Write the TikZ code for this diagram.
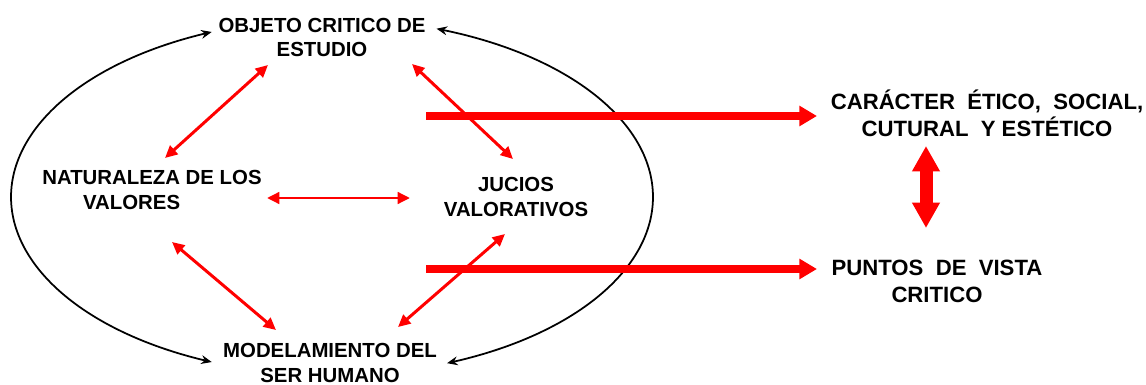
\documentclass[tikz,border=0pt]{standalone}
\usepackage{fontspec}
\setmainfont{Liberation Sans}
\usetikzlibrary{arrows.meta}
\begin{document}
\begin{tikzpicture}[x=0.02cm,y=-0.02cm,
  lbl/.style={font=\bfseries\fontsize{11.6}{14.2}\selectfont, align=center, inner sep=0pt, text=black},
  rlbl/.style={font=\bfseries\fontsize{12.6}{15.3}\selectfont, align=center, inner sep=0pt, text=black},
  redarr/.style={draw=red, line width=1.7pt, {Triangle[length=7pt,width=6.5pt]}-{Triangle[length=7pt,width=6.5pt]}},
  bigarr/.style={draw=red, line width=4pt, -{Triangle[length=10pt,width=11pt]}},
  vertarr/.style={draw=red, line width=7.4pt, {Triangle[length=14.5pt,width=15pt]}-{Triangle[length=14.5pt,width=15pt]}},
  cyc/.style={draw=black, line width=1pt, {Stealth[length=6pt,width=5pt]}-{Stealth[length=6pt,width=5pt]}},
]
\useasboundingbox (0,0) rectangle (1146,385);

% nodes
\node[lbl] (obj) at (322,37.5) {OBJETO CRITICO DE\\ESTUDIO};
\node[lbl] (nat) at (152,190) {NATURALEZA DE LOS\\VALORES\hspace*{2em}};
\node[lbl] (juc) at (516,197) {JUCIOS\\VALORATIVOS};
\node[lbl] (mod) at (330,363) {MODELAMIENTO DEL\\SER HUMANO};
\node[rlbl] (car) at (987,113) {CARÁCTER\ \ ÉTICO,\ \ SOCIAL,\\CUTURAL\ \ Y ESTÉTICO};
\node[rlbl] (pun) at (937,281) {PUNTOS\ \ DE\ \ VISTA\\CRITICO};

% connector end points
\coordinate (on) at (268,65);
\coordinate (no) at (165,158);
\coordinate (oj) at (412,64);
\coordinate (jo) at (513,159);
\coordinate (nj) at (267,198);
\coordinate (jn) at (410,198);
\coordinate (nm) at (172,242);
\coordinate (mn) at (276,330);
\coordinate (mj) at (398,327);
\coordinate (jm) at (505,234);
\coordinate (s1) at (426,116);
\coordinate (e1) at (817,116);
\coordinate (s2) at (426,269);
\coordinate (e2) at (817,269);
\coordinate (cv) at (926,146);
\coordinate (pv) at (926,228);

% black cycle arcs
\draw[cyc] plot[domain=112:248, variable=\t, smooth, samples=60] ({332+321*cos(\t)},{197-178*sin(\t)});
\draw[cyc] plot[domain=71:-69, variable=\t, smooth, samples=60] ({332+321*cos(\t)},{197-178*sin(\t)});

% thin red arrows
\draw[redarr] (on) -- (no);
\draw[redarr] (oj) -- (jo);
\draw[redarr] (nj) -- (jn);
\draw[redarr] (nm) -- (mn);
\draw[redarr] (mj) -- (jm);

% thick arrows
\draw[bigarr] (s1) -- (e1);
\draw[bigarr] (s2) -- (e2);
\draw[vertarr] (cv) -- (pv);
\end{tikzpicture}
\end{document}
